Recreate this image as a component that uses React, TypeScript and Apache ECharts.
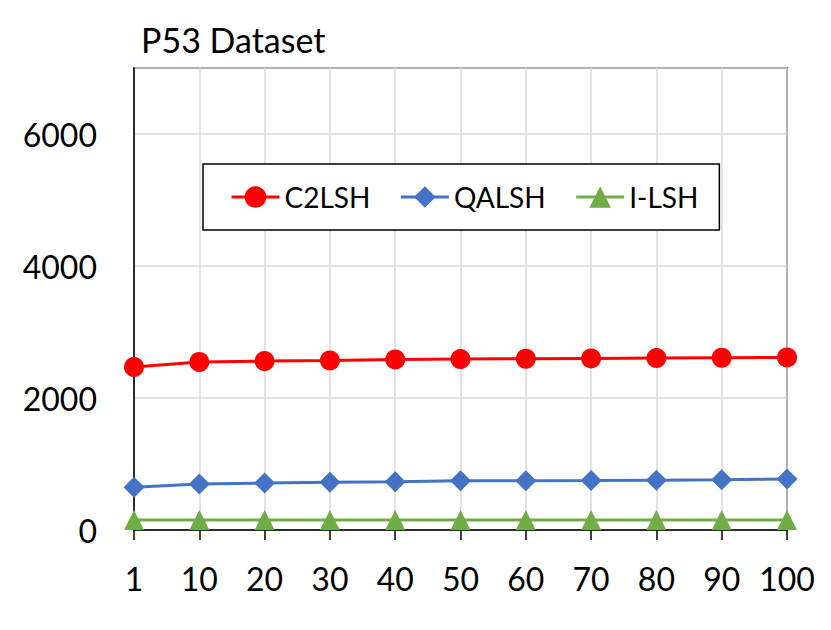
import React, { useEffect, useRef } from "react";
import * as echarts from "echarts";

const categories = ["1", "10", "20", "30", "40", "50", "60", "70", "80", "90", "100"];
const c2lsh = [2470, 2545, 2560, 2570, 2585, 2590, 2595, 2600, 2605, 2610, 2615];
const qalsh = [647, 697, 712, 722, 732, 747, 747, 750, 755, 760, 772];
const ilsh = [150, 150, 150, 150, 150, 150, 150, 150, 150, 150, 150];
const titleText = "P53 Dataset";

const FONT = "Lato, 'Open Sans', sans-serif";

export default function App() {
  const ref = useRef<HTMLDivElement>(null);
  useEffect(() => {
    if (!ref.current) return;
    const chart = echarts.init(ref.current, null, { renderer: "svg" });
    chart.setOption({
      animation: false,
      backgroundColor: "#ffffff",
      textStyle: { fontFamily: FONT },
      title: {
        text: titleText,
        left: 141,
        top: 22,
        padding: 0,
        textStyle: { fontFamily: FONT, fontSize: 34, fontWeight: "normal", color: "#000" },
      },
      legend: {
        left: 203,
        top: 164,
        orient: "horizontal",
        padding: [19, 21, 19, 27],
        itemGap: 29,
        itemWidth: 48,
        itemHeight: 27,
        borderColor: "#000",
        borderWidth: 1.5,
        backgroundColor: "#fff",
        lineStyle: { width: 3 },
        textStyle: { fontFamily: FONT, fontSize: 28, color: "#000" },
        data: ["C2LSH", "QALSH", "I-LSH"],
      },
      grid: {
        left: 134,
        right: 44,
        top: 68,
        bottom: 100,
        show: true,
        borderColor: "#000",
        borderWidth: 1.5,
        backgroundColor: "transparent",
      },
      xAxis: {
        type: "category",
        data: categories,
        boundaryGap: false,
        axisLine: { show: true, lineStyle: { color: "#000", width: 1.5 } },
        axisTick: { show: true, alignWithLabel: true, interval: 0, length: 10, lineStyle: { color: "#000", width: 1.5 } },
        axisLabel: { fontFamily: FONT, fontSize: 32, color: "#000", margin: 32, interval: 0 },
        splitLine: { show: true, interval: 0, lineStyle: { color: "#d9d9d9", width: 1.5 } },
      },
      yAxis: {
        type: "value",
        min: 0,
        max: 7000,
        interval: 2000,
        axisLine: { show: true, lineStyle: { color: "#000", width: 1.5 } },
        axisTick: { show: false },
        axisLabel: {
          fontFamily: FONT,
          fontSize: 32,
          color: "#000",
          margin: 37,
          showMaxLabel: false,
          formatter: (v: number) => String(v),
        },
        splitLine: { show: true, lineStyle: { color: "#d9d9d9", width: 1.5 } },
      },
      series: [
        {
          name: "C2LSH",
          type: "line",
          data: c2lsh,
          symbol: "circle",
          symbolSize: 20,
          itemStyle: { color: "#ff0000" },
          lineStyle: { color: "#ff0000", width: 3 },
        },
        {
          name: "QALSH",
          type: "line",
          data: qalsh,
          symbol: "diamond",
          symbolSize: 21,
          itemStyle: { color: "#4472c4" },
          lineStyle: { color: "#4472c4", width: 3 },
        },
        {
          name: "I-LSH",
          type: "line",
          data: ilsh,
          symbol: "triangle",
          symbolSize: 20,
          itemStyle: { color: "#70ad47" },
          lineStyle: { color: "#70ad47", width: 3 },
        },
      ],
    });
    return () => chart.dispose();
  }, []);
  return (
    <div
      ref={ref}
      style={{ position: "fixed", left: 0, top: 0, width: 831, height: 630 }}
    />
  );
}
